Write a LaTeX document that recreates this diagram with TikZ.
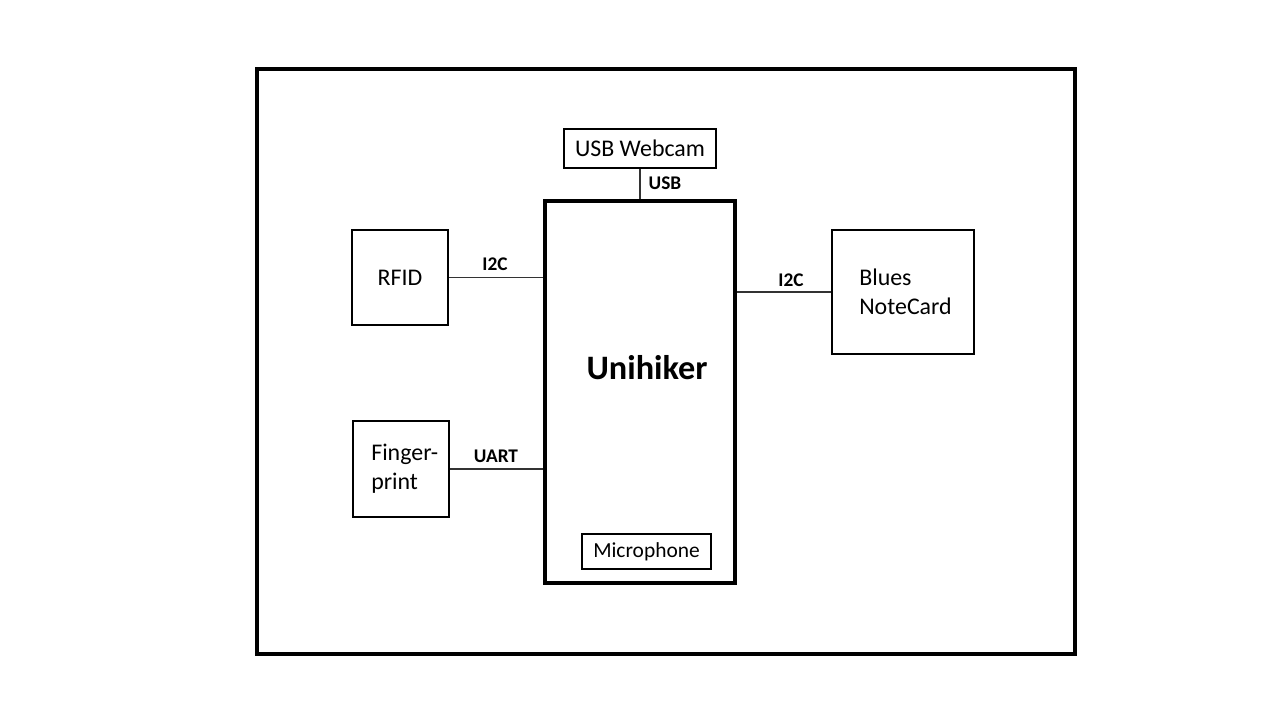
\documentclass[tikz,border=0pt]{standalone}
\usepackage{fontspec}
\setmainfont{Carlito}
\tikzset{
  box/.style={draw, line width=1pt, inner sep=0pt, align=left, font=\fontsize{13.6}{16.5}\selectfont},
  lbl/.style={font=\fontsize{11}{13}\selectfont\bfseries, inner sep=0pt},
  wire/.style={line width=0.6pt, black!80}
}
\begin{document}
\begin{tikzpicture}[x=0.02cm, y=-0.02cm]
\useasboundingbox (0,0) rectangle (1280,720);
\path[draw, line width=2pt] (257,69) rectangle (1075,654);

\node[box, minimum width=152*0.02cm, minimum height=39*0.02cm] (webcam) at (640,148.5) {USB Webcam};
\node[box, line width=2pt, minimum width=190*0.02cm, minimum height=382*0.02cm] (uni) at (640,392) {};
\node[font=\fontsize{19.5}{23}\selectfont\bfseries] (unitext) at (647,368) {Unihiker};
\node[box, line width=0.6pt, minimum width=129*0.02cm, minimum height=35*0.02cm, font=\fontsize{12.2}{15}\selectfont] (mic) at (646.5,551.5) {Microphone};
\node[box, minimum width=96*0.02cm, minimum height=95*0.02cm] (rfid) at (400,277.5) {RFID};
\node[box, minimum width=96*0.02cm, minimum height=96*0.02cm] (finger) at (401,469) {\hspace*{0.15cm}Finger-\\\hspace*{0.15cm}print};
\node[box, minimum width=142*0.02cm, minimum height=124*0.02cm] (notecard) at (903,292) {\hspace*{0.1cm}Blues\\\hspace*{0.1cm}NoteCard};

\path[draw, wire] (webcam.south) -- (webcam.south |- uni.north);
\path[draw, wire] (rfid.east) -- (rfid.east -| uni.west);
\path[draw, wire] (finger.east) -- (finger.east -| uni.west);
\path[draw, wire] (notecard.west) -- (notecard.west -| uni.east);

\node[lbl] (usb) at (665,183) {USB};
\node[lbl] (i2cl) at (495,264) {I2C};
\node[lbl] (uart) at (496,456) {UART};
\node[lbl] (i2cr) at (791,280) {I2C};
\end{tikzpicture}
\end{document}
